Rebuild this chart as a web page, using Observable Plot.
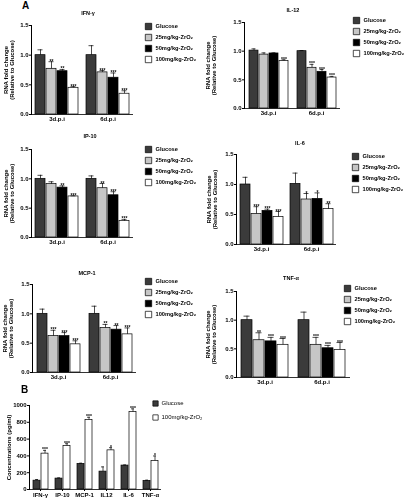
<!DOCTYPE html>
<html><head><meta charset="utf-8">
<script src="https://cdn.jsdelivr.net/npm/d3@7"></script>
<script src="https://cdn.jsdelivr.net/npm/@observablehq/plot@0.6"></script>
<style>
body{margin:0;background:#fff;}
#fig{position:relative;width:406px;height:500px;font-family:"Liberation Sans",Arial,sans-serif;font-weight:bold;color:#000;overflow:hidden;}
#fig > *{position:absolute;}
#fig svg{will-change:transform;}
.ttl{font-size:5.5px;line-height:1;transform:translateX(-50%);white-space:nowrap;}
.plbl{font-size:10px;line-height:1;}
</style></head><body><div id="fig"></div>
<script>
// ---------- data ----------
const days = ["3d.p.i", "6d.p.i"];
const groups = ["Glucose", "25mg/kg-ZrO₂", "50mg/kg-ZrO₂", "100mg/kg-ZrO₂"];
const groupFill = ["#3b3b3b", "#c6c6c6", "#000000", "#ffffff"];

// values ordered: 3d (4 groups), then 6d (4 groups)
const ifngMean = [1.00, 0.77, 0.73, 0.45, 1.00, 0.71, 0.62, 0.35];
const ifngErr  = [0.09, 0.12, 0.03, 0.02, 0.16, 0.03, 0.08, 0.05];
const ifngSig  = ["", "**", "**", "***", "", "***", "***", "***"];

const il12Mean = [1.01, 0.94, 0.96, 0.83, 1.00, 0.71, 0.64, 0.54];
const il12Err  = [0.03, 0.03, 0.01, 0.02, 0.01, 0.06, 0.04, 0.02];
const il12Sig  = ["", "", "", "***", "", "***", "***", "***"];

const ip10Mean = [1.00, 0.91, 0.85, 0.70, 1.00, 0.84, 0.72, 0.28];
const ip10Err  = [0.06, 0.04, 0.03, 0.01, 0.05, 0.08, 0.06, 0.03];
const ip10Sig  = ["", "", "**", "***", "", "**", "***", "***"];

const il6Mean = [1.00, 0.51, 0.56, 0.46, 1.01, 0.75, 0.76, 0.59];
const il6Err  = [0.12, 0.12, 0.03, 0.09, 0.18, 0.10, 0.10, 0.09];
const il6Sig  = ["", "***", "***", "***", "", "*", "*", "**"];

const mcp1Mean = [1.00, 0.62, 0.62, 0.48, 1.00, 0.76, 0.73, 0.65];
const mcp1Err  = [0.08, 0.10, 0.06, 0.06, 0.13, 0.06, 0.07, 0.11];
const mcp1Sig  = ["", "***", "***", "***", "", "**", "**", "***"];

const tnfMean = [1.00, 0.65, 0.63, 0.57, 1.00, 0.57, 0.51, 0.48];
const tnfErr  = [0.07, 0.13, 0.07, 0.11, 0.14, 0.13, 0.05, 0.13];
const tnfSig  = ["", "**", "***", "***", "", "***", "***", "***"];

const rnaTicks = [0, 0.5, 1.0, 1.5];

// panel B
const cytokines = ["IFN-γ", "IP-10", "MCP-1", "IL12", "IL-6", "TNF-α"];
const bGroups = ["Glucose", "100mg/kg-ZrO₂"];
const bFill = ["#3b3b3b", "#ffffff"];
const glucoseConc = [105, 130, 305, 213, 285, 103];
const glucoseErr  = [14, 8, 8, 56, 7, 8];
const zrConc = [427, 518, 828, 466, 921, 340];
const zrErr  = [39, 27, 32, 32, 39, 59];
const zrSig  = ["***", "***", "***", "*", "***", "*"];
const concTicks = [0, 200, 400, 600, 800, 1000];

// ---------- layout ----------
const fig = document.getElementById("fig");
const FONT = '"Liberation Sans", Arial, sans-serif';
function place(el, left, top) { el.style.left = left + "px"; el.style.top = top + "px"; fig.appendChild(el); }
function label(text, cls, left, top) { const d = document.createElement("div"); d.className = cls; d.textContent = text; place(d, left, top); }

function rnaChart(mean, err, sig, b) {
  const data = mean.map((v, i) => ({day: days[Math.floor(i / 4)], group: groups[i % 4], v, e: err[i], s: sig[i]}));
  return Plot.plot({
    width: b.w, height: b.h, marginLeft: b.ml, marginRight: 3, marginTop: b.mt, marginBottom: 11,
    style: {fontFamily: FONT, fontWeight: "bold", fontSize: "6px", color: "#000", background: "transparent", overflow: "visible"},
    fx: {domain: days, padding: 0, label: null, axis: "bottom", tickSize: 0, tickPadding: 2},
    x: {domain: groups, axis: null, paddingInner: 0.12, paddingOuter: 0.3},
    y: {domain: [0, 1.5], ticks: rnaTicks, tickFormat: d3.format(".1f"), tickSize: 2, tickPadding: 1, line: true,
        label: "RNA fold change\n(Relative to Glucose)", labelAnchor: "center", labelArrow: "none", labelOffset: b.ml - 2},
    color: {domain: groups, range: groupFill},
    marks: [
      Plot.barY(data, {fx: "day", x: "group", y: "v", fill: "group", stroke: "#000", strokeWidth: 0.7}),
      Plot.ruleX(data, {fx: "day", x: "group", y1: "v", y2: d => d.v + d.e, strokeWidth: 0.7}),
      Plot.tickY(data, {fx: "day", x: "group", y: d => d.v + d.e, insetLeft: 2.5, insetRight: 2.5, strokeWidth: 0.7}),
      Plot.text(data, {fx: "day", x: "group", y: d => d.v + d.e, text: "s", dy: 1, lineAnchor: "bottom", fontSize: 5, fill: "#000"}),
      Plot.ruleY([0], {strokeWidth: 0.8})
    ]
  });
}

function legendChart(labels, fills, b, weight) {
  return Plot.plot({
    width: b.w, height: b.h, margin: 0, marginLeft: 4,
    style: {fontFamily: FONT, fontWeight: weight, fontSize: b.fs + "px", color: "#000", background: "transparent", overflow: "visible"},
    y: {domain: labels, axis: null, padding: 0},
    color: {domain: labels, range: fills},
    marks: [
      Plot.dot(labels, {y: d => d, frameAnchor: "left", symbol: "square", r: b.r, fill: d => d, stroke: "#000", strokeWidth: 0.7}),
      Plot.text(labels, {y: d => d, frameAnchor: "left", dx: b.dx, textAnchor: "start", text: d => d, fill: "#000"})
    ]
  });
}

const panels = [
  {title: "IFN-γ", mean: ifngMean, err: ifngErr, sig: ifngSig, left: 0,   top: 0,   w: 136, h: 125, ml: 30, mt: 25, tx: 88,  ty: 11,  lx: 144, ly: 25},
  {title: "IL-12", mean: il12Mean, err: il12Err, sig: il12Sig, left: 203, top: 0,   w: 140, h: 119, ml: 41, mt: 22, tx: 293, ty: 8,   lx: 352, ly: 19},
  {title: "IP-10", mean: ip10Mean, err: ip10Err, sig: ip10Sig, left: 0,   top: 130, w: 136, h: 118, ml: 30, mt: 19, tx: 90,  ty: 134, lx: 144, ly: 148},
  {title: "IL-6",  mean: il6Mean,  err: il6Err,  sig: il6Sig,  left: 203, top: 130, w: 136, h: 125, ml: 32, mt: 24, tx: 300, ty: 141, lx: 351, ly: 155},
  {title: "MCP-1", mean: mcp1Mean, err: mcp1Err, sig: mcp1Sig, left: 0,   top: 260, w: 139, h: 123, ml: 32, mt: 24, tx: 87,  ty: 271, lx: 144, ly: 280},
  {title: "TNF-α", mean: tnfMean,  err: tnfErr,  sig: tnfSig,  left: 203, top: 260, w: 150, h: 128, ml: 33, mt: 31, tx: 291, ty: 276, lx: 343, ly: 287}
];

label("A", "plbl", 22, 1);
for (const p of panels) {
  place(rnaChart(p.mean, p.err, p.sig, p), p.left, p.top);
  place(legendChart(groups, groupFill, {w: 406 - p.lx, h: 35, r: 3.6, dx: 7, fs: 5.7}, "bold"), p.lx, p.ly);
  label(p.title, "ttl", p.tx, p.ty);
}

// panel B
label("B", "plbl", 21, 385);
const bData = cytokines.flatMap((c, i) => [
  {cyt: c, group: bGroups[0], v: glucoseConc[i], e: glucoseErr[i], s: ""},
  {cyt: c, group: bGroups[1], v: zrConc[i], e: zrErr[i], s: zrSig[i]}
]);
const chartB = Plot.plot({
  width: 166, height: 110, marginLeft: 26, marginRight: 3, marginTop: 15, marginBottom: 11,
  style: {fontFamily: FONT, fontWeight: "bold", fontSize: "6px", color: "#000", background: "transparent", overflow: "visible"},
  fx: {domain: cytokines, padding: 0, label: null, axis: "bottom", tickSize: 2, tickPadding: 1},
  x: {domain: bGroups, axis: null, paddingInner: 0.15, paddingOuter: 0.4},
  y: {domain: [0, 1000], ticks: concTicks, tickFormat: d3.format("d"), tickSize: 2, tickPadding: 1, line: true,
      label: "Concentrations (pg/ml)", labelAnchor: "center", labelArrow: "none", labelOffset: 23},
  color: {domain: bGroups, range: bFill},
  marks: [
    Plot.barY(bData, {fx: "cyt", x: "group", y: "v", fill: "group", stroke: "#000", strokeWidth: 0.7}),
    Plot.ruleX(bData, {fx: "cyt", x: "group", y1: "v", y2: d => d.v + d.e, strokeWidth: 0.7}),
    Plot.tickY(bData, {fx: "cyt", x: "group", y: d => d.v + d.e, insetLeft: 2, insetRight: 2, strokeWidth: 0.7}),
    Plot.text(bData, {fx: "cyt", x: "group", y: d => d.v + d.e, text: "s", dy: 1, lineAnchor: "bottom", fontSize: 5, fill: "#000"}),
    Plot.ruleY([0], {strokeWidth: 0.8})
  ]
});
place(chartB, 0, 390);
place(legendChart(bGroups, bFill, {w: 100, h: 14.6, r: 3, dx: 6, fs: 6}, "normal"), 151, 403);
</script></body></html>
